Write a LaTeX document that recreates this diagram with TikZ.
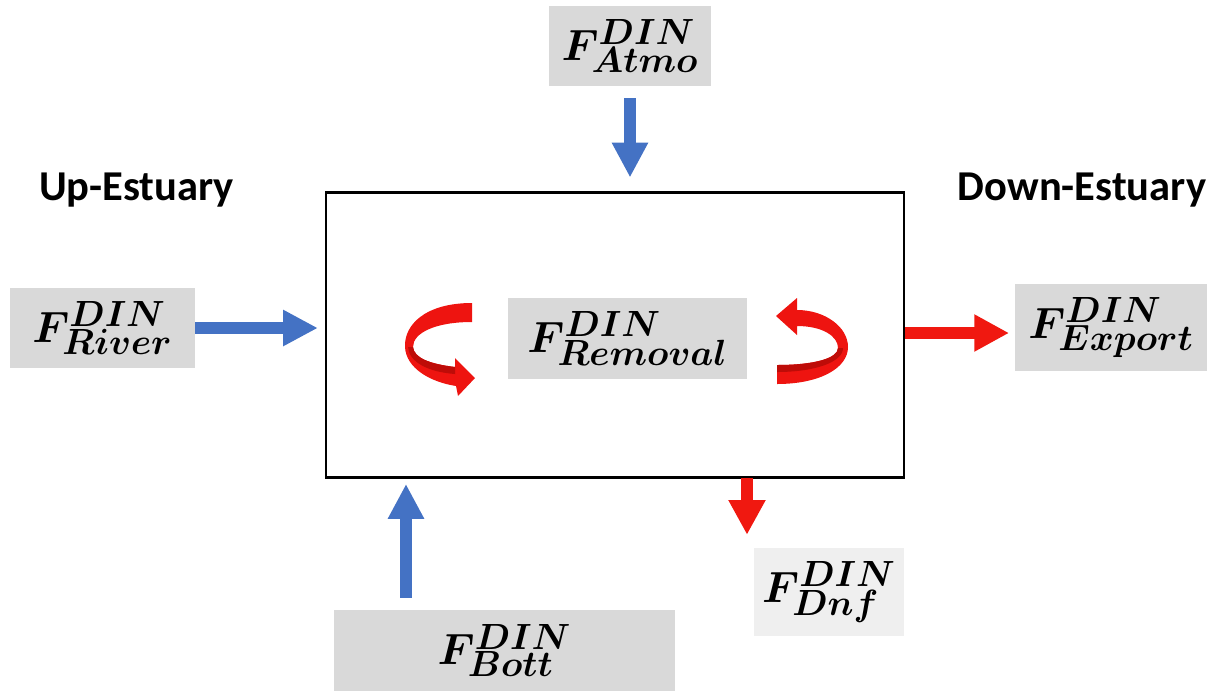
\documentclass[tikz,border=0pt]{standalone}
\usepackage{fontspec}
\usepackage{bm}
\newfontfamily\headfont{Carlito}
\usetikzlibrary{arrows.meta}

\definecolor{fluxgrey}{HTML}{D9D9D9}
\definecolor{fluxlight}{HTML}{EFEFEF}
\definecolor{inblue}{HTML}{4472C4}
\definecolor{outred}{HTML}{F01810}
\definecolor{ribbonred}{HTML}{EE1410}
\definecolor{ribbondark}{HTML}{BE0C08}

\newcommand{\fluxsize}{\fontsize{29}{34}\selectfont}
\newcommand{\flux}[1]{$\bm{F^{DIN}_{#1}}$}

\begin{document}
\begin{tikzpicture}[x=0.02cm, y=-0.02cm,
  fluxbox/.style={fill=fluxgrey, inner sep=0pt, font=\fluxsize},
  heading/.style={font=\headfont\bfseries\fontsize{24.2}{29}\selectfont, anchor=base},
  inflow/.style={draw=inblue, line width=6.8pt,
    -{Triangle[length=19.8pt, width=19.3pt]}},
  outflow/.style={draw=outred, line width=6.5pt,
    -{Triangle[length=19.8pt, width=19.8pt]}},
  ribbon/.style={fill=ribbonred},
  ribbonback/.style={fill=ribbondark}]

\useasboundingbox (0,0) rectangle (1215,691);

% estuary control volume
\node[draw, line width=1.4pt, minimum width=328.8pt, minimum height=162.1pt,
      inner sep=0pt] (box) at (615,335) {};

% flux labels
\node[fluxbox, minimum width=104.9pt, minimum height=45.4pt] (river)   at (102.5,328)  {\flux{River}};
\node[fluxbox, minimum width=91.8pt,  minimum height=45.4pt] (atmo)    at (630,46)     {\flux{Atmo}};
\node[fluxbox, minimum width=135.5pt, minimum height=45.9pt] (removal) at (627.5,338.5) {\flux{Removal}};
\node[fluxbox, minimum width=108.8pt, minimum height=49.9pt] (export)  at (1111,327.5) {\flux{Export}};
\node[fluxbox, minimum width=194.4pt, minimum height=45.9pt] (bott)    at (504.5,650.5) {\flux{Bott}};
\node[fluxbox, fill=fluxlight, minimum width=85pt, minimum height=49.9pt] (dnf) at (829,592) {\flux{Dnf}};

% side headings
\node[heading] (up)   at (136.5,200) {Up-Estuary};
\node[heading] (down) at (1082,200)  {Down-Estuary};

% anchor points on the box outline
\coordinate (riverin) at (box.west |- river.east);
\coordinate (bottin)  at (406,478);
\coordinate (exportout) at (905,333);
\coordinate (dnfout)  at (747,478);

% inputs
\draw[inflow, shorten >=4pt] (river.east) -- (riverin);
\draw[inflow, shorten <=6.8pt, shorten >=7.9pt] (atmo.south) -- (atmo.south |- box.north);
\draw[inflow, shorten <=6.8pt, shorten >=3.4pt] (bott.north -| bottin) -- (bottin);

% outputs
\draw[outflow, shorten >=3.4pt] (exportout) -- (export.west |- exportout);
\draw[outflow, shorten >=7.4pt] (dnfout) -- (dnfout |- dnf.north);

% internal removal cycling: curled ribbon arrows
% left ribbon (top -> left -> bottom, head pointing right)
\fill[ribbon] (472,303) .. controls (425,303) and (404,325) .. (405,347)
  .. controls (406,368) and (430,382) .. (456,386)
  -- (458,396) -- (475,378) -- (455,358) -- (455,367)
  .. controls (430,364) and (414,358) .. (413,347)
  .. controls (413,333) and (435,322) .. (472,322) -- cycle;
\fill[ribbonback] (413,347) .. controls (414,358) and (430,364) .. (455,367)
  -- (455,374) .. controls (428,372) and (409,362) .. (408,347) -- cycle;

% right ribbon (bottom -> right -> top, head pointing left)
\fill[ribbon] (777,365) -- (777,384) .. controls (820,384) and (848,368) .. (848,347)
  .. controls (848,327) and (825,310) .. (797,310)
  -- (797,298) -- (776,316) -- (797,335) -- (797,326)
  .. controls (822,326) and (838,336) .. (838,348)
  .. controls (838,358) and (815,365) .. (777,365) -- cycle;
\fill[ribbonback] (838,348) .. controls (838,358) and (815,365) .. (777,365)
  -- (777,372) .. controls (815,372) and (843,362) .. (843,348) -- cycle;

\end{tikzpicture}
\end{document}
